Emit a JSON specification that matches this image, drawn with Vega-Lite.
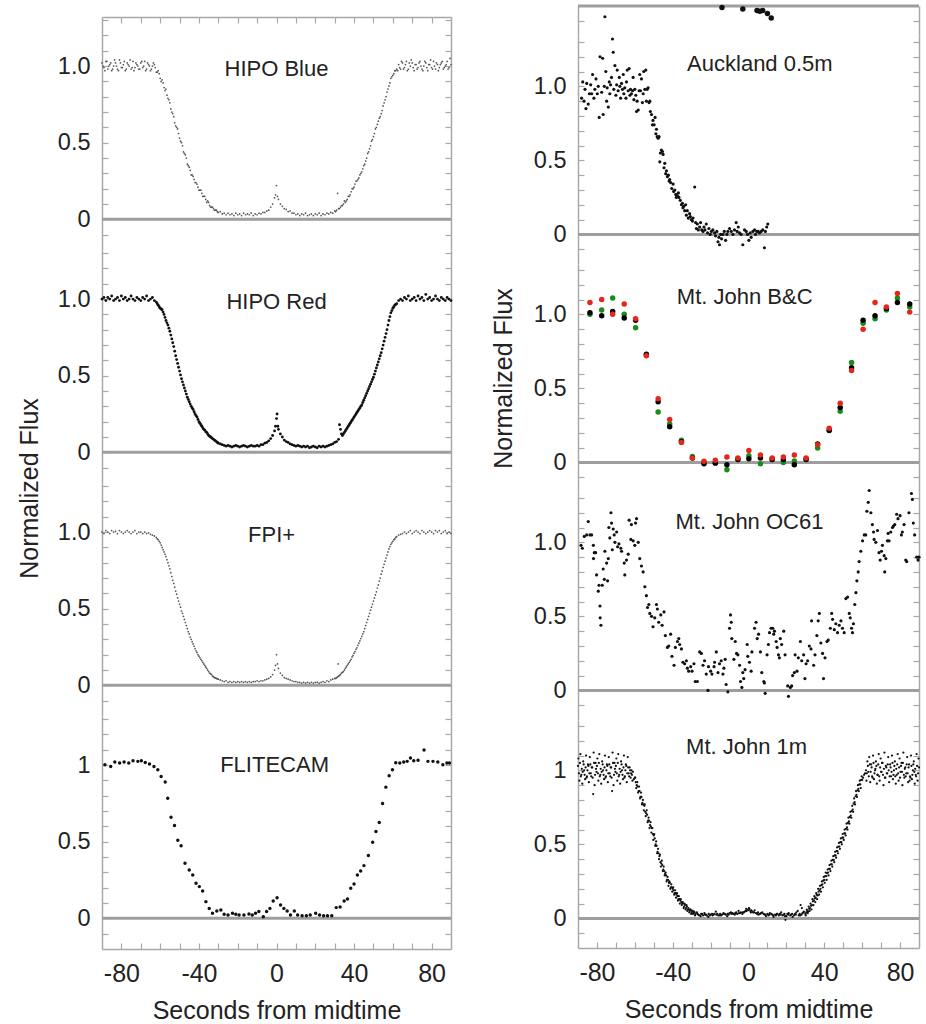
{
"$schema":"https://vega.github.io/schema/vega-lite/v6.json",
"padding":{"left":17,"top":4,"right":5,"bottom":0},
"autosize":{"type":"pad"},
"config":{"view":{"stroke":null},"font":"Liberation Sans",
"axis":{"domainColor":"#a8a8a8","domainWidth":1.5,"tickColor":"#a8a8a8","tickWidth":1.2,"tickSize":-6,"grid":false,"labelColor":"#222222","labelFont":"Liberation Sans","labelFontSize":23.5,"labelPadding":18,"labelOverlap":false,"labelFlush":false,"titleFont":"Liberation Sans","titleFontSize":25,"titleFontWeight":"normal","titleColor":"#222222"},
"axisBottom":{"labelFontSize":25}},
"datasets":{
"hb":[{"t":-90,"f":1.02},{"t":-89,"f":0.99},{"t":-88,"f":1.03},{"t":-87,"f":0.98},{"t":-86,"f":1.01},{"t":-85,"f":0.97},{"t":-84,"f":1.0},{"t":-83,"f":1.02},{"t":-82,"f":0.98},{"t":-81,"f":1.04},{"t":-80,"f":0.99},{"t":-79,"f":1.01},{"t":-78,"f":0.97},{"t":-77,"f":1.02},{"t":-76,"f":1.0},{"t":-75,"f":0.98},{"t":-74,"f":1.03},{"t":-73,"f":0.99},{"t":-72,"f":1.01},{"t":-71,"f":0.98},{"t":-70,"f":1.02},{"t":-69,"f":0.99},{"t":-68,"f":1.03},{"t":-67,"f":0.98},{"t":-66,"f":1.01},{"t":-65,"f":0.97},{"t":-64,"f":1.0},{"t":-63,"f":1.01},{"t":-62,"f":0.96},{"t":-61,"f":0.97},{"t":-60,"f":0.92},{"t":-59,"f":0.91},{"t":-58,"f":0.86},{"t":-57,"f":0.85},{"t":-56,"f":0.79},{"t":-55,"f":0.76},{"t":-54,"f":0.7},{"t":-53,"f":0.67},{"t":-52,"f":0.61},{"t":-51,"f":0.59},{"t":-50,"f":0.53},{"t":-49,"f":0.5},{"t":-48,"f":0.44},{"t":-47,"f":0.42},{"t":-46,"f":0.36},{"t":-45,"f":0.34},{"t":-44,"f":0.29},{"t":-43,"f":0.28},{"t":-42,"f":0.24},{"t":-41,"f":0.23},{"t":-40,"f":0.19},{"t":-39,"f":0.19},{"t":-38,"f":0.15},{"t":-37,"f":0.15},{"t":-36,"f":0.11},{"t":-35,"f":0.11},{"t":-34,"f":0.08},{"t":-33,"f":0.08},{"t":-32,"f":0.06},{"t":-31,"f":0.06},{"t":-30,"f":0.045},{"t":-29,"f":0.05},{"t":-28,"f":0.035},{"t":-27,"f":0.04},{"t":-26,"f":0.03},{"t":-25,"f":0.04},{"t":-24,"f":0.03},{"t":-23,"f":0.035},{"t":-22,"f":0.025},{"t":-21,"f":0.04},{"t":-20,"f":0.03},{"t":-19,"f":0.035},{"t":-18,"f":0.025},{"t":-17,"f":0.04},{"t":-16,"f":0.03},{"t":-15,"f":0.035},{"t":-14,"f":0.03},{"t":-13,"f":0.04},{"t":-12,"f":0.025},{"t":-11,"f":0.035},{"t":-10,"f":0.03},{"t":-9,"f":0.04},{"t":-8,"f":0.035},{"t":-7,"f":0.045},{"t":-6,"f":0.045},{"t":-5,"f":0.055},{"t":-4,"f":0.06},{"t":-3,"f":0.08},{"t":-2,"f":0.1},{"t":-1,"f":0.14},{"t":-0.5,"f":0.16},{"t":0,"f":0.22},{"t":0.5,"f":0.15},{"t":1,"f":0.13},{"t":2,"f":0.1},{"t":3,"f":0.085},{"t":4,"f":0.07},{"t":5,"f":0.065},{"t":6,"f":0.05},{"t":7,"f":0.055},{"t":8,"f":0.04},{"t":9,"f":0.04},{"t":10,"f":0.03},{"t":11,"f":0.035},{"t":12,"f":0.025},{"t":13,"f":0.035},{"t":14,"f":0.03},{"t":15,"f":0.04},{"t":16,"f":0.025},{"t":17,"f":0.03},{"t":18,"f":0.035},{"t":19,"f":0.025},{"t":20,"f":0.035},{"t":21,"f":0.03},{"t":22,"f":0.04},{"t":23,"f":0.025},{"t":24,"f":0.035},{"t":25,"f":0.03},{"t":26,"f":0.04},{"t":27,"f":0.035},{"t":28,"f":0.045},{"t":29,"f":0.04},{"t":30,"f":0.055},{"t":31,"f":0.06},{"t":32,"f":0.07},{"t":33,"f":0.08},{"t":34,"f":0.09},{"t":35,"f":0.12},{"t":36,"f":0.12},{"t":37,"f":0.15},{"t":38,"f":0.16},{"t":39,"f":0.2},{"t":40,"f":0.21},{"t":41,"f":0.25},{"t":42,"f":0.26},{"t":43,"f":0.29},{"t":44,"f":0.31},{"t":45,"f":0.35},{"t":46,"f":0.38},{"t":47,"f":0.43},{"t":48,"f":0.46},{"t":49,"f":0.51},{"t":50,"f":0.54},{"t":51,"f":0.59},{"t":52,"f":0.62},{"t":53,"f":0.66},{"t":54,"f":0.69},{"t":55,"f":0.74},{"t":56,"f":0.78},{"t":57,"f":0.83},{"t":58,"f":0.87},{"t":59,"f":0.92},{"t":60,"f":0.94},{"t":61,"f":0.97},{"t":62,"f":0.98},{"t":63,"f":1.01},{"t":64,"f":0.98},{"t":65,"f":1.02},{"t":66,"f":0.99},{"t":67,"f":1.03},{"t":68,"f":0.98},{"t":69,"f":1.0},{"t":70,"f":1.02},{"t":71,"f":0.97},{"t":72,"f":1.01},{"t":73,"f":0.99},{"t":74,"f":1.03},{"t":75,"f":0.98},{"t":76,"f":1.0},{"t":77,"f":1.02},{"t":78,"f":0.97},{"t":79,"f":1.01},{"t":80,"f":0.99},{"t":81,"f":1.03},{"t":82,"f":0.98},{"t":83,"f":1.01},{"t":84,"f":0.99},{"t":85,"f":1.02},{"t":86,"f":0.98},{"t":87,"f":1.0},{"t":88,"f":1.03},{"t":89,"f":0.99},{"t":90,"f":1.01},
{"t":-89.5,"f":1.0},{"t":-88.5,"f":0.97},{"t":-87.5,"f":1.03},{"t":-86.5,"f":1.0},{"t":-85.5,"f":1.02},{"t":-84.5,"f":0.98},{"t":-83.5,"f":1.04},{"t":-82.5,"f":1.0},{"t":-81.5,"f":0.97},{"t":-80.5,"f":1.02},{"t":-79.5,"f":0.99},{"t":-78.5,"f":1.03},{"t":-77.5,"f":0.98},{"t":-76.5,"f":1.01},{"t":-75.5,"f":1.04},{"t":-74.5,"f":0.99},{"t":-73.5,"f":0.97},{"t":-72.5,"f":1.02},{"t":-71.5,"f":1.0},{"t":-70.5,"f":0.98},{"t":-69.5,"f":1.03},{"t":-68.5,"f":1.0},{"t":-67.5,"f":0.97},{"t":-66.5,"f":1.02},{"t":-65.5,"f":1.0},{"t":-64.5,"f":0.98},{"t":-63.5,"f":1.02},{"t":-62.5,"f":0.99},
{"t":62.5,"f":0.97},{"t":63.5,"f":0.99},{"t":64.5,"f":1.03},{"t":65.5,"f":0.98},{"t":66.5,"f":1.01},{"t":67.5,"f":0.97},{"t":68.5,"f":1.02},{"t":69.5,"f":1.04},{"t":70.5,"f":0.99},{"t":71.5,"f":1.01},{"t":72.5,"f":0.98},{"t":73.5,"f":1.02},{"t":74.5,"f":1.0},{"t":75.5,"f":0.97},{"t":76.5,"f":1.03},{"t":77.5,"f":0.99},{"t":78.5,"f":1.01},{"t":79.5,"f":1.04},{"t":80.5,"f":0.98},{"t":81.5,"f":1.0},{"t":82.5,"f":1.02},{"t":83.5,"f":0.97},{"t":84.5,"f":1.01},{"t":85.5,"f":1.03},{"t":86.5,"f":0.99},{"t":87.5,"f":1.01},{"t":88.5,"f":0.98},{"t":89.5,"f":1.05},
{"t":-61.5,"f":0.96},{"t":-60.5,"f":0.95},{"t":-59.5,"f":0.9},{"t":-58.5,"f":0.89},{"t":-57.5,"f":0.84},{"t":-56.5,"f":0.81},{"t":-55.5,"f":0.78},{"t":-54.5,"f":0.72},{"t":-53.5,"f":0.69},{"t":-52.5,"f":0.63},{"t":-51.5,"f":0.6},{"t":-50.5,"f":0.56},{"t":-49.5,"f":0.51},{"t":-48.5,"f":0.48},{"t":-47.5,"f":0.43},{"t":-46.5,"f":0.4},{"t":-45.5,"f":0.35},{"t":-44.5,"f":0.32},{"t":-43.5,"f":0.29},{"t":-42.5,"f":0.26},{"t":-41.5,"f":0.24},{"t":-40.5,"f":0.21},{"t":-39.5,"f":0.19},{"t":-38.5,"f":0.17},{"t":-37.5,"f":0.15},{"t":-36.5,"f":0.13},{"t":-35.5,"f":0.12},{"t":-34.5,"f":0.09},{"t":-33.5,"f":0.08},{"t":-32.5,"f":0.07},{"t":-31.5,"f":0.06},{"t":-30.5,"f":0.05},
{"t":30.5,"f":0.05},{"t":31.5,"f":0.17},{"t":32.5,"f":0.07},{"t":33.5,"f":0.09},{"t":34.5,"f":0.1},{"t":35.5,"f":0.11},{"t":36.5,"f":0.13},{"t":37.5,"f":0.15},{"t":38.5,"f":0.18},{"t":39.5,"f":0.2},{"t":40.5,"f":0.23},{"t":41.5,"f":0.25},{"t":42.5,"f":0.27},{"t":43.5,"f":0.3},{"t":44.5,"f":0.33},{"t":45.5,"f":0.36},{"t":46.5,"f":0.4},{"t":47.5,"f":0.44},{"t":48.5,"f":0.48},{"t":49.5,"f":0.52},{"t":50.5,"f":0.56},{"t":51.5,"f":0.6},{"t":52.5,"f":0.64},{"t":53.5,"f":0.67},{"t":54.5,"f":0.71},{"t":55.5,"f":0.76},{"t":56.5,"f":0.8},{"t":57.5,"f":0.85},{"t":58.5,"f":0.89},{"t":59.5,"f":0.93},{"t":60.5,"f":0.95},{"t":61.5,"f":0.97}],
"hr":[{"t":-90,"f":1.0},{"t":-89,"f":1.01},{"t":-88,"f":0.99},{"t":-87,"f":1.01},{"t":-86,"f":1.0},{"t":-85,"f":1.02},{"t":-84,"f":0.99},{"t":-83,"f":1.0},{"t":-82,"f":1.01},{"t":-81,"f":0.99},{"t":-80,"f":1.02},{"t":-79,"f":1.0},{"t":-78,"f":1.01},{"t":-77,"f":0.99},{"t":-76,"f":1.0},{"t":-75,"f":1.02},{"t":-74,"f":1.0},{"t":-73,"f":0.99},{"t":-72,"f":1.01},{"t":-71,"f":1.0},{"t":-70,"f":0.99},{"t":-69,"f":1.01},{"t":-68,"f":1.0},{"t":-67,"f":1.02},{"t":-66,"f":0.99},{"t":-65,"f":1.0},{"t":-64,"f":1.01},{"t":-63,"f":0.99},{"t":-62,"f":0.98},{"t":-61,"f":0.96},{"t":-60,"f":0.94},{"t":-59,"f":0.93},{"t":-58,"f":0.9},{"t":-57,"f":0.86},{"t":-56,"f":0.83},{"t":-55,"f":0.79},{"t":-54,"f":0.74},{"t":-53,"f":0.69},{"t":-52,"f":0.63},{"t":-51,"f":0.58},{"t":-50,"f":0.53},{"t":-49,"f":0.48},{"t":-48,"f":0.44},{"t":-47,"f":0.4},{"t":-46,"f":0.36},{"t":-45,"f":0.33},{"t":-44,"f":0.3},{"t":-43,"f":0.28},{"t":-42,"f":0.25},{"t":-41,"f":0.23},{"t":-40,"f":0.2},{"t":-39,"f":0.18},{"t":-38,"f":0.16},{"t":-37,"f":0.145},{"t":-36,"f":0.13},{"t":-35,"f":0.11},{"t":-34,"f":0.1},{"t":-33,"f":0.09},{"t":-32,"f":0.08},{"t":-31,"f":0.07},{"t":-30,"f":0.06},{"t":-29,"f":0.055},{"t":-28,"f":0.05},{"t":-27,"f":0.045},{"t":-26,"f":0.04},{"t":-25,"f":0.045},{"t":-24,"f":0.04},{"t":-23,"f":0.035},{"t":-22,"f":0.04},{"t":-21,"f":0.045},{"t":-20,"f":0.04},{"t":-19,"f":0.035},{"t":-18,"f":0.04},{"t":-17,"f":0.045},{"t":-16,"f":0.04},{"t":-15,"f":0.035},{"t":-14,"f":0.04},{"t":-13,"f":0.045},{"t":-12,"f":0.04},{"t":-11,"f":0.04},{"t":-10,"f":0.045},{"t":-9,"f":0.04},{"t":-8,"f":0.05},{"t":-7,"f":0.05},{"t":-6,"f":0.06},{"t":-5,"f":0.065},{"t":-4,"f":0.075},{"t":-3,"f":0.09},{"t":-2,"f":0.11},{"t":-1,"f":0.14},{"t":-0.5,"f":0.17},{"t":0,"f":0.22},{"t":0.3,"f":0.25},{"t":0.7,"f":0.17},{"t":1,"f":0.15},{"t":2,"f":0.12},{"t":3,"f":0.1},{"t":4,"f":0.08},{"t":5,"f":0.07},{"t":6,"f":0.065},{"t":7,"f":0.055},{"t":8,"f":0.05},{"t":9,"f":0.045},{"t":10,"f":0.04},{"t":11,"f":0.045},{"t":12,"f":0.04},{"t":13,"f":0.035},{"t":14,"f":0.04},{"t":15,"f":0.035},{"t":16,"f":0.04},{"t":17,"f":0.03},{"t":18,"f":0.035},{"t":19,"f":0.04},{"t":20,"f":0.035},{"t":21,"f":0.03},{"t":22,"f":0.04},{"t":23,"f":0.035},{"t":24,"f":0.04},{"t":25,"f":0.035},{"t":26,"f":0.04},{"t":27,"f":0.045},{"t":28,"f":0.05},{"t":29,"f":0.055},{"t":30,"f":0.065},{"t":31,"f":0.07},{"t":32,"f":0.085},{"t":32.5,"f":0.18},{"t":33,"f":0.15},{"t":34,"f":0.11},{"t":35,"f":0.13},{"t":36,"f":0.15},{"t":37,"f":0.17},{"t":38,"f":0.19},{"t":39,"f":0.21},{"t":40,"f":0.23},{"t":41,"f":0.25},{"t":42,"f":0.27},{"t":43,"f":0.29},{"t":44,"f":0.31},{"t":45,"f":0.34},{"t":46,"f":0.37},{"t":47,"f":0.4},{"t":48,"f":0.43},{"t":49,"f":0.46},{"t":50,"f":0.49},{"t":51,"f":0.53},{"t":52,"f":0.57},{"t":53,"f":0.61},{"t":54,"f":0.65},{"t":55,"f":0.7},{"t":56,"f":0.75},{"t":57,"f":0.8},{"t":58,"f":0.86},{"t":59,"f":0.91},{"t":60,"f":0.94},{"t":61,"f":0.96},{"t":62,"f":0.97},{"t":63,"f":0.99},{"t":64,"f":1.0},{"t":65,"f":0.99},{"t":66,"f":1.01},{"t":67,"f":1.0},{"t":68,"f":1.02},{"t":69,"f":0.99},{"t":70,"f":1.0},{"t":71,"f":1.01},{"t":72,"f":0.99},{"t":73,"f":1.02},{"t":74,"f":1.0},{"t":75,"f":1.01},{"t":76,"f":0.99},{"t":77,"f":1.03},{"t":78,"f":1.0},{"t":79,"f":1.01},{"t":80,"f":0.99},{"t":81,"f":1.0},{"t":82,"f":1.02},{"t":83,"f":1.0},{"t":84,"f":0.99},{"t":85,"f":1.01},{"t":86,"f":1.0},{"t":87,"f":0.99},{"t":88,"f":1.01},{"t":89,"f":1.0},{"t":90,"f":0.99},
{"t":-61.5,"f":0.97},{"t":-60.5,"f":0.95},{"t":-59.5,"f":0.935},{"t":-58.5,"f":0.915},{"t":-57.5,"f":0.88},{"t":-56.5,"f":0.845},{"t":-55.5,"f":0.81},{"t":-54.5,"f":0.765},{"t":-53.5,"f":0.715},{"t":-52.5,"f":0.66},{"t":-51.5,"f":0.605},{"t":-50.5,"f":0.555},{"t":-49.5,"f":0.505},{"t":-48.5,"f":0.46},{"t":-47.5,"f":0.42},{"t":-46.5,"f":0.38},{"t":-45.5,"f":0.345},{"t":-44.5,"f":0.315},{"t":-43.5,"f":0.29},{"t":-42.5,"f":0.265},{"t":-41.5,"f":0.24},{"t":-40.5,"f":0.215},{"t":-39.5,"f":0.19},{"t":-38.5,"f":0.17},{"t":-37.5,"f":0.15},{"t":-36.5,"f":0.135},{"t":-35.5,"f":0.12},{"t":-34.5,"f":0.105},{"t":-33.5,"f":0.095},{"t":-32.5,"f":0.085},{"t":-31.5,"f":0.075},{"t":-30.5,"f":0.065},
{"t":33.5,"f":0.12},{"t":34.5,"f":0.12},{"t":35.5,"f":0.14},{"t":36.5,"f":0.16},{"t":37.5,"f":0.18},{"t":38.5,"f":0.2},{"t":39.5,"f":0.22},{"t":40.5,"f":0.24},{"t":41.5,"f":0.26},{"t":42.5,"f":0.28},{"t":43.5,"f":0.3},{"t":44.5,"f":0.325},{"t":45.5,"f":0.355},{"t":46.5,"f":0.385},{"t":47.5,"f":0.415},{"t":48.5,"f":0.445},{"t":49.5,"f":0.475},{"t":50.5,"f":0.51},{"t":51.5,"f":0.55},{"t":52.5,"f":0.59},{"t":53.5,"f":0.63},{"t":54.5,"f":0.675},{"t":55.5,"f":0.725},{"t":56.5,"f":0.775},{"t":57.5,"f":0.83},{"t":58.5,"f":0.885},{"t":59.5,"f":0.925},{"t":60.5,"f":0.95},{"t":61.5,"f":0.965}],
"fp":[{"t":-90,"f":1.0},{"t":-89,"f":0.99},{"t":-88,"f":1.01},{"t":-87,"f":1.0},{"t":-86,"f":0.99},{"t":-85,"f":1.01},{"t":-84,"f":1.0},{"t":-83,"f":1.005},{"t":-82,"f":0.99},{"t":-81,"f":1.01},{"t":-80,"f":1.0},{"t":-79,"f":0.99},{"t":-78,"f":1.0},{"t":-77,"f":1.01},{"t":-76,"f":1.0},{"t":-75,"f":0.99},{"t":-74,"f":1.0},{"t":-73,"f":1.01},{"t":-72,"f":0.99},{"t":-71,"f":1.0},{"t":-70,"f":1.0},{"t":-69,"f":0.99},{"t":-68,"f":1.0},{"t":-67,"f":0.99},{"t":-66,"f":0.995},{"t":-65,"f":0.985},{"t":-64,"f":0.98},{"t":-63,"f":0.975},{"t":-62,"f":0.965},{"t":-61,"f":0.95},{"t":-60,"f":0.93},{"t":-59,"f":0.9},{"t":-58,"f":0.87},{"t":-57,"f":0.84},{"t":-56,"f":0.8},{"t":-55,"f":0.76},{"t":-54,"f":0.71},{"t":-53,"f":0.665},{"t":-52,"f":0.615},{"t":-51,"f":0.57},{"t":-50,"f":0.53},{"t":-49,"f":0.485},{"t":-48,"f":0.45},{"t":-47,"f":0.41},{"t":-46,"f":0.37},{"t":-45,"f":0.335},{"t":-44,"f":0.3},{"t":-43,"f":0.27},{"t":-42,"f":0.24},{"t":-41,"f":0.215},{"t":-40,"f":0.19},{"t":-39,"f":0.17},{"t":-38,"f":0.15},{"t":-37,"f":0.13},{"t":-36,"f":0.11},{"t":-35,"f":0.09},{"t":-34,"f":0.075},{"t":-33,"f":0.06},{"t":-32,"f":0.05},{"t":-31,"f":0.045},{"t":-30,"f":0.04},{"t":-29,"f":0.035},{"t":-28,"f":0.03},{"t":-27,"f":0.025},{"t":-26,"f":0.03},{"t":-25,"f":0.02},{"t":-24,"f":0.025},{"t":-23,"f":0.02},{"t":-22,"f":0.025},{"t":-21,"f":0.02},{"t":-20,"f":0.025},{"t":-19,"f":0.02},{"t":-18,"f":0.025},{"t":-17,"f":0.02},{"t":-16,"f":0.025},{"t":-15,"f":0.02},{"t":-14,"f":0.025},{"t":-13,"f":0.02},{"t":-12,"f":0.025},{"t":-11,"f":0.025},{"t":-10,"f":0.03},{"t":-9,"f":0.025},{"t":-8,"f":0.03},{"t":-7,"f":0.03},{"t":-6,"f":0.035},{"t":-5,"f":0.04},{"t":-4,"f":0.045},{"t":-3,"f":0.055},{"t":-2,"f":0.07},{"t":-1,"f":0.1},{"t":-0.5,"f":0.13},{"t":0,"f":0.2},{"t":0.5,"f":0.14},{"t":1,"f":0.11},{"t":2,"f":0.08},{"t":3,"f":0.065},{"t":4,"f":0.05},{"t":5,"f":0.045},{"t":6,"f":0.04},{"t":7,"f":0.035},{"t":8,"f":0.03},{"t":9,"f":0.025},{"t":10,"f":0.025},{"t":11,"f":0.02},{"t":12,"f":0.02},{"t":13,"f":0.015},{"t":14,"f":0.02},{"t":15,"f":0.015},{"t":16,"f":0.02},{"t":17,"f":0.015},{"t":18,"f":0.02},{"t":19,"f":0.015},{"t":20,"f":0.02},{"t":21,"f":0.02},{"t":22,"f":0.015},{"t":23,"f":0.02},{"t":24,"f":0.025},{"t":25,"f":0.02},{"t":26,"f":0.03},{"t":27,"f":0.025},{"t":28,"f":0.035},{"t":29,"f":0.04},{"t":30,"f":0.045},{"t":31,"f":0.05},{"t":31.8,"f":0.14},{"t":32,"f":0.06},{"t":33,"f":0.07},{"t":34,"f":0.085},{"t":35,"f":0.1},{"t":36,"f":0.12},{"t":37,"f":0.14},{"t":38,"f":0.16},{"t":39,"f":0.185},{"t":40,"f":0.21},{"t":41,"f":0.235},{"t":42,"f":0.26},{"t":43,"f":0.29},{"t":44,"f":0.32},{"t":45,"f":0.35},{"t":46,"f":0.39},{"t":47,"f":0.43},{"t":48,"f":0.47},{"t":49,"f":0.51},{"t":50,"f":0.55},{"t":51,"f":0.59},{"t":52,"f":0.635},{"t":53,"f":0.68},{"t":54,"f":0.725},{"t":55,"f":0.77},{"t":56,"f":0.81},{"t":57,"f":0.85},{"t":58,"f":0.89},{"t":59,"f":0.92},{"t":60,"f":0.94},{"t":61,"f":0.955},{"t":62,"f":0.97},{"t":63,"f":0.98},{"t":64,"f":0.985},{"t":65,"f":0.99},{"t":66,"f":1.0},{"t":67,"f":0.99},{"t":68,"f":1.0},{"t":69,"f":1.01},{"t":70,"f":0.99},{"t":71,"f":1.0},{"t":72,"f":1.01},{"t":73,"f":1.0},{"t":74,"f":0.99},{"t":75,"f":1.01},{"t":76,"f":1.0},{"t":77,"f":0.99},{"t":78,"f":1.0},{"t":79,"f":1.01},{"t":80,"f":1.0},{"t":81,"f":0.99},{"t":82,"f":1.01},{"t":83,"f":1.0},{"t":84,"f":1.01},{"t":85,"f":0.99},{"t":86,"f":1.0},{"t":87,"f":1.01},{"t":88,"f":0.99},{"t":89,"f":1.0},{"t":90,"f":0.99},
{"t":-61.5,"f":0.955},{"t":-60.5,"f":0.94},{"t":-59.5,"f":0.915},{"t":-58.5,"f":0.885},{"t":-57.5,"f":0.855},{"t":-56.5,"f":0.82},{"t":-55.5,"f":0.78},{"t":-54.5,"f":0.735},{"t":-53.5,"f":0.685},{"t":-52.5,"f":0.64},{"t":-51.5,"f":0.595},{"t":-50.5,"f":0.55},{"t":-49.5,"f":0.51},{"t":-48.5,"f":0.47},{"t":-47.5,"f":0.43},{"t":-46.5,"f":0.39},{"t":-45.5,"f":0.35},{"t":-44.5,"f":0.315},{"t":-43.5,"f":0.285},{"t":-42.5,"f":0.255},{"t":-41.5,"f":0.225},{"t":-40.5,"f":0.2},{"t":-39.5,"f":0.18},{"t":-38.5,"f":0.16},{"t":-37.5,"f":0.14},{"t":-36.5,"f":0.12},{"t":-35.5,"f":0.1},{"t":-34.5,"f":0.08},{"t":-33.5,"f":0.07},{"t":-32.5,"f":0.055},{"t":-31.5,"f":0.048},{"t":-30.5,"f":0.042},
{"t":30.5,"f":0.045},{"t":31.5,"f":0.055},{"t":32.5,"f":0.065},{"t":33.5,"f":0.08},{"t":34.5,"f":0.09},{"t":35.5,"f":0.11},{"t":36.5,"f":0.13},{"t":37.5,"f":0.15},{"t":38.5,"f":0.17},{"t":39.5,"f":0.195},{"t":40.5,"f":0.22},{"t":41.5,"f":0.245},{"t":42.5,"f":0.275},{"t":43.5,"f":0.305},{"t":44.5,"f":0.335},{"t":45.5,"f":0.37},{"t":46.5,"f":0.41},{"t":47.5,"f":0.45},{"t":48.5,"f":0.49},{"t":49.5,"f":0.53},{"t":50.5,"f":0.57},{"t":51.5,"f":0.61},{"t":52.5,"f":0.655},{"t":53.5,"f":0.7},{"t":54.5,"f":0.745},{"t":55.5,"f":0.79},{"t":56.5,"f":0.83},{"t":57.5,"f":0.87},{"t":58.5,"f":0.905},{"t":59.5,"f":0.93},{"t":60.5,"f":0.95},{"t":61.5,"f":0.965}],
"fl":[{"t":-88.5,"f":1.002},{"t":-85.5,"f":0.991},{"t":-83.4,"f":1.02},{"t":-80.9,"f":1.013},{"t":-78.6,"f":1.02},{"t":-76.2,"f":1.013},{"t":-74.0,"f":1.028},{"t":-71.5,"f":1.024},{"t":-69.7,"f":1.028},{"t":-67.7,"f":1.017},{"t":-65.5,"f":1.007},{"t":-63.2,"f":0.991},{"t":-61.2,"f":0.969},{"t":-59.5,"f":0.926},{"t":-57.4,"f":0.889},{"t":-56.1,"f":0.784},{"t":-54.4,"f":0.66},{"t":-52.6,"f":0.606},{"t":-50.9,"f":0.51},{"t":-49.2,"f":0.473},{"t":-47.2,"f":0.359},{"t":-45.0,"f":0.316},{"t":-43.2,"f":0.283},{"t":-41.5,"f":0.229},{"t":-39.8,"f":0.207},{"t":-38.1,"f":0.179},{"t":-36.4,"f":0.109},{"t":-34.7,"f":0.065},{"t":-33.0,"f":0.033},{"t":-30.8,"f":0.048},{"t":-28.7,"f":0.054},{"t":-27.0,"f":0.026},{"t":-25.0,"f":0.022},{"t":-22.7,"f":0.033},{"t":-21.0,"f":0.026},{"t":-19.3,"f":0.022},{"t":-16.8,"f":0.022},{"t":-14.2,"f":0.028},{"t":-12.5,"f":0.022},{"t":-10.8,"f":0.033},{"t":-9.1,"f":0.044},{"t":-6.8,"f":0.011},{"t":-5.1,"f":0.044},{"t":-3.4,"f":0.065},{"t":-1.7,"f":0.113},{"t":0.3,"f":0.135},{"t":2.1,"f":0.087},{"t":3.8,"f":0.065},{"t":5.5,"f":0.048},{"t":7.2,"f":0.022},{"t":9.2,"f":0.048},{"t":10.9,"f":0.022},{"t":13.2,"f":0.017},{"t":15.4,"f":0.017},{"t":17.4,"f":0.022},{"t":20.2,"f":0.033},{"t":22.2,"f":0.022},{"t":24.3,"f":0.017},{"t":26.3,"f":0.017},{"t":28.5,"f":0.017},{"t":30.8,"f":0.07},{"t":32.8,"f":0.074},{"t":34.9,"f":0.113},{"t":36.6,"f":0.126},{"t":38.3,"f":0.196},{"t":40.0,"f":0.224},{"t":41.7,"f":0.283},{"t":43.4,"f":0.309},{"t":45.1,"f":0.344},{"t":47.4,"f":0.41},{"t":49.6,"f":0.497},{"t":51.3,"f":0.566},{"t":53.0,"f":0.625},{"t":54.7,"f":0.749},{"t":56.4,"f":0.856},{"t":58.1,"f":0.93},{"t":59.8,"f":0.969},{"t":61.5,"f":1.015},{"t":63.6,"f":1.013},{"t":65.6,"f":1.02},{"t":67.4,"f":1.024},{"t":69.1,"f":1.046},{"t":70.8,"f":1.028},{"t":73.0,"f":1.031},{"t":76.1,"f":1.098},{"t":78.1,"f":1.024},{"t":80.7,"f":1.024},{"t":83.2,"f":1.02},{"t":85.8,"f":1.002},{"t":87.9,"f":1.013},{"t":89.2,"f":1.013}],
"ph":[{"t":-14,"f":-0.01},{"t":-3,"f":-0.02},{"t":4.5,"f":-0.03},{"t":6,"f":-0.035},{"t":7.5,"f":-0.03},{"t":10,"f":-0.05},{"t":12,"f":-0.08}],
"au":[{"t":-88.1,"f":0.92},{"t":-87.5,"f":1.03},{"t":-86.8,"f":0.9},{"t":-86.3,"f":0.98},{"t":-85.8,"f":0.85},{"t":-85.4,"f":1.02},{"t":-84.6,"f":0.88},{"t":-84.0,"f":0.95},{"t":-83.3,"f":1.01},{"t":-82.8,"f":0.95},{"t":-82.3,"f":1.08},{"t":-81.6,"f":0.92},{"t":-81.1,"f":0.98},{"t":-80.5,"f":1.05},{"t":-79.8,"f":0.95},{"t":-79.3,"f":1.0},{"t":-78.8,"f":0.79},{"t":-78.4,"f":1.2},{"t":-77.5,"f":0.96},{"t":-77.0,"f":1.19},{"t":-76.7,"f":0.81},{"t":-76.1,"f":1.0},{"t":-75.8,"f":1.47},{"t":-75.3,"f":1.1},{"t":-74.9,"f":0.9},{"t":-74.6,"f":0.99},{"t":-74.0,"f":0.86},{"t":-73.5,"f":1.03},{"t":-73.2,"f":0.95},{"t":-72.8,"f":1.01},{"t":-72.3,"f":1.06},{"t":-71.8,"f":1.32},{"t":-71.4,"f":1.23},{"t":-71.1,"f":0.98},{"t":-70.5,"f":1.14},{"t":-70.0,"f":0.94},{"t":-69.6,"f":1.01},{"t":-69.3,"f":1.11},{"t":-68.8,"f":0.97},{"t":-68.2,"f":1.06},{"t":-67.9,"f":1.0},{"t":-67.5,"f":0.92},{"t":-67.0,"f":1.02},{"t":-66.5,"f":0.98},{"t":-66.1,"f":1.08},{"t":-65.8,"f":0.95},{"t":-65.3,"f":0.99},{"t":-64.7,"f":0.92},{"t":-64.4,"f":1.03},{"t":-64.0,"f":1.11},{"t":-63.5,"f":0.97},{"t":-63.0,"f":1.12},{"t":-62.6,"f":0.94},{"t":-62.3,"f":0.98},{"t":-61.8,"f":0.95},{"t":-61.2,"f":0.97},{"t":-60.9,"f":1.06},{"t":-60.5,"f":0.91},{"t":-60.0,"f":0.98},{"t":-59.5,"f":0.94},{"t":-59.1,"f":0.83},{"t":-58.8,"f":0.9},{"t":-58.2,"f":0.84},{"t":-57.7,"f":0.97},{"t":-57.4,"f":1.08},{"t":-57.0,"f":0.97},{"t":-56.5,"f":1.05},{"t":-56.0,"f":0.89},{"t":-55.6,"f":0.95},{"t":-55.3,"f":1.1},{"t":-54.7,"f":0.98},{"t":-54.2,"f":1.11},{"t":-53.9,"f":0.9},{"t":-53.5,"f":0.98},{"t":-53.0,"f":0.99},{"t":-52.5,"f":0.89},{"t":-52.1,"f":0.9},{"t":-51.8,"f":0.83},{"t":-51.2,"f":0.81},{"t":-50.7,"f":0.74},{"t":-50.4,"f":0.77},{"t":-49.8,"f":0.74},{"t":-49.3,"f":0.79},{"t":-48.9,"f":0.68},{"t":-48.6,"f":0.71},{"t":-48.2,"f":0.66},{"t":-47.7,"f":0.65},{"t":-47.2,"f":0.66},{"t":-46.8,"f":0.49},{"t":-46.5,"f":0.55},{"t":-46.0,"f":0.57},{"t":-45.4,"f":0.56},{"t":-45.1,"f":0.54},{"t":-44.6,"f":0.45},{"t":-44.2,"f":0.48},{"t":-43.7,"f":0.41},{"t":-43.3,"f":0.43},{"t":-42.8,"f":0.39},{"t":-42.3,"f":0.4},{"t":-41.9,"f":0.36},{"t":-41.6,"f":0.37},{"t":-41.1,"f":0.35},{"t":-40.5,"f":0.31},{"t":-39.8,"f":0.34},{"t":-39.5,"f":0.29},{"t":-38.9,"f":0.3},{"t":-38.4,"f":0.27},{"t":-38.1,"f":0.25},{"t":-37.5,"f":0.26},{"t":-37.0,"f":0.28},{"t":-36.7,"f":0.25},{"t":-36.0,"f":0.23},{"t":-35.4,"f":0.2},{"t":-34.9,"f":0.21},{"t":-34.6,"f":0.18},{"t":-34.2,"f":0.19},{"t":-33.7,"f":0.16},{"t":-33.2,"f":0.2},{"t":-32.8,"f":0.13},{"t":-32.3,"f":0.16},{"t":-31.8,"f":0.11},{"t":-31.1,"f":0.14},{"t":-30.7,"f":0.12},{"t":-30.2,"f":0.1},{"t":-29.6,"f":0.09},{"t":-29.3,"f":0.11},{"t":-28.4,"f":0.32},{"t":-27.9,"f":0.08},{"t":-27.5,"f":0.04},{"t":-27.0,"f":0.07},{"t":-26.5,"f":0.03},{"t":-25.8,"f":0.05},{"t":-25.3,"f":0.08},{"t":-24.7,"f":0.03},{"t":-24.0,"f":0.02},{"t":-23.5,"f":0.05},{"t":-23.0,"f":0.03},{"t":-22.3,"f":0.07},{"t":-21.6,"f":0.01},{"t":-20.9,"f":0.04},{"t":-20.2,"f":0.0},{"t":-19.6,"f":0.02},{"t":-18.8,"f":0.03},{"t":-17.9,"f":0.01},{"t":-17.4,"f":-0.01},{"t":-16.7,"f":0.02},{"t":-16.1,"f":-0.05},{"t":-15.6,"f":-0.02},{"t":-15.3,"f":-0.07},{"t":-14.7,"f":0.0},{"t":-14.2,"f":-0.03},{"t":-13.5,"f":0.0},{"t":-12.8,"f":0.02},{"t":-12.1,"f":-0.04},{"t":-11.4,"f":0.0},{"t":-10.9,"f":0.02},{"t":-10.0,"f":0.04},{"t":-9.1,"f":0.02},{"t":-8.2,"f":0.0},{"t":-7.4,"f":0.03},{"t":-6.5,"f":0.08},{"t":-6.0,"f":0.02},{"t":-5.4,"f":0.05},{"t":-4.7,"f":0.01},{"t":-3.9,"f":0.0},{"t":-3.0,"f":-0.07},{"t":-2.1,"f":0.03},{"t":-1.2,"f":0.02},{"t":-0.5,"f":0.0},{"t":0.2,"f":-0.04},{"t":0.9,"f":0.01},{"t":1.4,"f":-0.02},{"t":2.3,"f":0.02},{"t":3.2,"f":0.03},{"t":3.7,"f":0.0},{"t":4.4,"f":0.02},{"t":5.1,"f":0.02},{"t":5.8,"f":0.01},{"t":6.7,"f":0.02},{"t":7.5,"f":0.03},{"t":8.4,"f":-0.09},{"t":8.9,"f":0.02},{"t":9.6,"f":0.05},{"t":10.2,"f":0.07}],
"bc":[{"t":-83.7,"f":1.0,"c":"green"},{"t":-83.7,"f":1.01,"c":"black"},{"t":-83.7,"f":1.08,"c":"red"},{"t":-77.5,"f":1.03,"c":"green"},{"t":-77.5,"f":0.99,"c":"black"},{"t":-77.5,"f":1.1,"c":"red"},{"t":-71.7,"f":1.11,"c":"green"},{"t":-71.7,"f":1.02,"c":"black"},{"t":-71.7,"f":1.0,"c":"red"},{"t":-65.6,"f":1.0,"c":"green"},{"t":-65.6,"f":0.975,"c":"black"},{"t":-65.6,"f":1.07,"c":"red"},{"t":-59.6,"f":0.91,"c":"green"},{"t":-59.6,"f":0.96,"c":"black"},{"t":-59.6,"f":0.97,"c":"red"},{"t":-53.9,"f":0.725,"c":"green"},{"t":-53.9,"f":0.73,"c":"black"},{"t":-53.9,"f":0.72,"c":"red"},{"t":-47.7,"f":0.34,"c":"green"},{"t":-47.7,"f":0.41,"c":"black"},{"t":-47.7,"f":0.43,"c":"red"},{"t":-41.6,"f":0.26,"c":"green"},{"t":-41.6,"f":0.24,"c":"black"},{"t":-41.6,"f":0.29,"c":"red"},{"t":-35.4,"f":0.15,"c":"green"},{"t":-35.4,"f":0.14,"c":"black"},{"t":-35.4,"f":0.135,"c":"red"},{"t":-29.6,"f":0.04,"c":"green"},{"t":-29.6,"f":0.03,"c":"black"},{"t":-29.6,"f":0.03,"c":"red"},{"t":-23.5,"f":0.0,"c":"green"},{"t":-23.5,"f":-0.01,"c":"black"},{"t":-23.5,"f":0.007,"c":"red"},{"t":-17.5,"f":0.0,"c":"green"},{"t":-17.5,"f":-0.005,"c":"black"},{"t":-17.5,"f":0.014,"c":"red"},{"t":-11.4,"f":-0.05,"c":"green"},{"t":-11.4,"f":-0.016,"c":"black"},{"t":-11.4,"f":0.036,"c":"red"},{"t":-5.6,"f":0.025,"c":"green"},{"t":-5.6,"f":0.02,"c":"black"},{"t":-5.6,"f":0.03,"c":"red"},{"t":0.2,"f":0.045,"c":"green"},{"t":0.2,"f":0.025,"c":"black"},{"t":0.2,"f":0.08,"c":"red"},{"t":6.3,"f":-0.01,"c":"green"},{"t":6.3,"f":0.03,"c":"black"},{"t":6.3,"f":0.05,"c":"red"},{"t":12.5,"f":0.025,"c":"green"},{"t":12.5,"f":0.02,"c":"black"},{"t":12.5,"f":0.03,"c":"red"},{"t":18.4,"f":0.0,"c":"green"},{"t":18.4,"f":0.02,"c":"black"},{"t":18.4,"f":0.036,"c":"red"},{"t":24.2,"f":0.01,"c":"green"},{"t":24.2,"f":-0.016,"c":"black"},{"t":24.2,"f":0.05,"c":"red"},{"t":30.4,"f":0.025,"c":"green"},{"t":30.4,"f":0.02,"c":"black"},{"t":30.4,"f":0.03,"c":"red"},{"t":36.5,"f":0.097,"c":"green"},{"t":36.5,"f":0.125,"c":"black"},{"t":36.5,"f":0.12,"c":"red"},{"t":42.6,"f":0.22,"c":"green"},{"t":42.6,"f":0.215,"c":"black"},{"t":42.6,"f":0.23,"c":"red"},{"t":48.4,"f":0.345,"c":"green"},{"t":48.4,"f":0.37,"c":"black"},{"t":48.4,"f":0.4,"c":"red"},{"t":54.4,"f":0.675,"c":"green"},{"t":54.4,"f":0.64,"c":"black"},{"t":54.4,"f":0.62,"c":"red"},{"t":60.5,"f":0.94,"c":"green"},{"t":60.5,"f":0.96,"c":"black"},{"t":60.5,"f":0.9,"c":"red"},{"t":66.8,"f":0.97,"c":"green"},{"t":66.8,"f":0.99,"c":"black"},{"t":66.8,"f":1.08,"c":"red"},{"t":72.8,"f":1.03,"c":"green"},{"t":72.8,"f":1.04,"c":"black"},{"t":72.8,"f":1.05,"c":"red"},{"t":78.6,"f":1.11,"c":"green"},{"t":78.6,"f":1.08,"c":"black"},{"t":78.6,"f":1.14,"c":"red"},{"t":85.1,"f":1.05,"c":"green"},{"t":85.1,"f":1.07,"c":"black"},{"t":85.1,"f":1.015,"c":"red"}],
"oc":[{"t":-88.4,"f":0.98},{"t":-87.7,"f":0.96},{"t":-86.7,"f":1.04},{"t":-85.4,"f":1.05},{"t":-84.6,"f":1.14},{"t":-83.7,"f":1.05},{"t":-82.8,"f":1.05},{"t":-81.9,"f":0.98},{"t":-81.4,"f":0.93},{"t":-81.8,"f":0.89},{"t":-80.7,"f":0.93},{"t":-80.2,"f":0.78},{"t":-79.3,"f":0.67},{"t":-78.9,"f":0.71},{"t":-78.4,"f":0.57},{"t":-78.3,"f":0.49},{"t":-77.9,"f":0.44},{"t":-77.2,"f":0.71},{"t":-76.7,"f":0.82},{"t":-76.1,"f":0.75},{"t":-75.8,"f":0.94},{"t":-74.9,"f":0.86},{"t":-74.4,"f":0.74},{"t":-74.0,"f":0.89},{"t":-73.7,"f":1.1},{"t":-73.2,"f":1.03},{"t":-72.6,"f":1.2},{"t":-72.3,"f":1.13},{"t":-71.9,"f":0.95},{"t":-71.4,"f":1.09},{"t":-70.9,"f":1.05},{"t":-70.5,"f":1.0},{"t":-69.6,"f":1.07},{"t":-69.1,"f":0.97},{"t":-68.4,"f":0.99},{"t":-67.4,"f":0.96},{"t":-67.0,"f":0.94},{"t":-65.6,"f":0.86},{"t":-65.3,"f":0.78},{"t":-64.4,"f":0.88},{"t":-63.5,"f":0.92},{"t":-63.0,"f":1.15},{"t":-62.1,"f":1.02},{"t":-61.8,"f":1.12},{"t":-60.9,"f":1.01},{"t":-60.0,"f":0.98},{"t":-59.6,"f":1.13},{"t":-59.1,"f":1.16},{"t":-58.2,"f":1.0},{"t":-57.4,"f":0.89},{"t":-56.5,"f":0.84},{"t":-55.6,"f":0.8},{"t":-54.7,"f":0.7},{"t":-53.9,"f":0.64},{"t":-53.3,"f":0.56},{"t":-52.6,"f":0.58},{"t":-52.1,"f":0.52},{"t":-51.2,"f":0.5},{"t":-50.4,"f":0.43},{"t":-49.5,"f":0.49},{"t":-48.6,"f":0.58},{"t":-48.1,"f":0.55},{"t":-47.4,"f":0.46},{"t":-46.3,"f":0.51},{"t":-45.6,"f":0.44},{"t":-44.6,"f":0.53},{"t":-43.9,"f":0.37},{"t":-42.8,"f":0.29},{"t":-42.1,"f":0.3},{"t":-41.1,"f":0.38},{"t":-40.4,"f":0.23},{"t":-39.3,"f":0.17},{"t":-38.6,"f":0.29},{"t":-37.5,"f":0.33},{"t":-36.8,"f":0.35},{"t":-36.3,"f":0.31},{"t":-35.4,"f":0.28},{"t":-34.6,"f":0.19},{"t":-33.7,"f":0.18},{"t":-32.8,"f":0.2},{"t":-32.3,"f":0.15},{"t":-31.6,"f":0.13},{"t":-30.5,"f":0.16},{"t":-29.8,"f":0.13},{"t":-28.8,"f":0.18},{"t":-28.1,"f":0.06},{"t":-27.0,"f":0.06},{"t":-25.8,"f":0.26},{"t":-24.9,"f":0.25},{"t":-24.0,"f":0.17},{"t":-23.2,"f":0.2},{"t":-22.3,"f":0.11},{"t":-21.4,"f":0.0},{"t":-21.1,"f":0.16},{"t":-20.0,"f":0.13},{"t":-19.3,"f":0.11},{"t":-18.2,"f":0.16},{"t":-17.9,"f":0.19},{"t":-17.0,"f":0.26},{"t":-16.1,"f":0.12},{"t":-15.3,"f":0.18},{"t":-14.4,"f":0.2},{"t":-13.5,"f":0.11},{"t":-13.0,"f":0.15},{"t":-12.3,"f":0.21},{"t":-11.8,"f":0.04},{"t":-10.9,"f":-0.01},{"t":-10.0,"f":0.42},{"t":-9.5,"f":0.51},{"t":-9.1,"f":0.46},{"t":-8.8,"f":0.35},{"t":-7.7,"f":0.21},{"t":-7.0,"f":0.33},{"t":-6.3,"f":0.25},{"t":-5.6,"f":0.24},{"t":-4.7,"f":0.17},{"t":-4.2,"f":0.06},{"t":-3.5,"f":0.02},{"t":-3.0,"f":0.12},{"t":-2.5,"f":0.08},{"t":-1.8,"f":0.14},{"t":-0.7,"f":0.31},{"t":-0.4,"f":0.23},{"t":0.5,"f":0.19},{"t":1.4,"f":0.13},{"t":1.8,"f":0.26},{"t":3.2,"f":0.42},{"t":4.0,"f":0.46},{"t":4.6,"f":0.35},{"t":5.3,"f":0.38},{"t":6.3,"f":0.26},{"t":7.0,"f":0.12},{"t":8.1,"f":0.06},{"t":8.4,"f":0.05},{"t":8.8,"f":-0.02},{"t":9.8,"f":0.24},{"t":10.5,"f":0.31},{"t":11.1,"f":0.39},{"t":11.9,"f":0.42},{"t":12.8,"f":0.42},{"t":13.3,"f":0.38},{"t":13.7,"f":0.4},{"t":14.6,"f":0.33},{"t":15.1,"f":0.29},{"t":15.8,"f":0.24},{"t":16.3,"f":0.22},{"t":16.8,"f":0.35},{"t":17.5,"f":0.31},{"t":18.6,"f":0.4},{"t":19.3,"f":0.24},{"t":20.7,"f":0.03},{"t":21.1,"f":-0.04},{"t":22.1,"f":0.02},{"t":22.8,"f":0.03},{"t":23.3,"f":0.1},{"t":24.2,"f":0.12},{"t":24.6,"f":0.24},{"t":25.6,"f":0.13},{"t":26.3,"f":0.22},{"t":27.4,"f":0.33},{"t":28.1,"f":0.2},{"t":29.1,"f":0.24},{"t":29.8,"f":0.08},{"t":30.4,"f":0.18},{"t":31.2,"f":0.2},{"t":32.1,"f":0.3},{"t":33.0,"f":0.28},{"t":33.3,"f":0.47},{"t":34.4,"f":0.17},{"t":35.1,"f":0.24},{"t":36.1,"f":0.37},{"t":36.8,"f":0.47},{"t":37.4,"f":0.52},{"t":38.2,"f":0.32},{"t":39.1,"f":0.25},{"t":39.6,"f":0.08},{"t":40.4,"f":0.22},{"t":41.4,"f":0.33},{"t":42.1,"f":0.34},{"t":43.2,"f":0.42},{"t":43.9,"f":0.52},{"t":44.4,"f":0.48},{"t":45.3,"f":0.41},{"t":46.1,"f":0.45},{"t":47.0,"f":0.39},{"t":47.9,"f":0.44},{"t":48.8,"f":0.47},{"t":49.6,"f":0.42},{"t":50.5,"f":0.39},{"t":51.4,"f":0.62},{"t":52.3,"f":0.63},{"t":53.2,"f":0.52},{"t":53.7,"f":0.49},{"t":54.4,"f":0.42},{"t":54.9,"f":0.39},{"t":55.4,"f":0.45},{"t":56.1,"f":0.58},{"t":56.7,"f":0.66},{"t":57.2,"f":0.74},{"t":57.9,"f":0.8},{"t":58.4,"f":0.87},{"t":59.3,"f":0.94},{"t":60.2,"f":1.01},{"t":61.1,"f":1.05},{"t":61.9,"f":1.05},{"t":62.5,"f":1.21},{"t":63.2,"f":1.27},{"t":63.7,"f":1.35},{"t":64.6,"f":1.2},{"t":65.4,"f":1.12},{"t":66.0,"f":1.07},{"t":66.3,"f":1.02},{"t":67.2,"f":1.0},{"t":68.1,"f":1.08},{"t":68.9,"f":0.93},{"t":69.5,"f":0.88},{"t":70.2,"f":0.94},{"t":70.7,"f":0.98},{"t":71.6,"f":0.91},{"t":71.9,"f":0.8},{"t":72.5,"f":0.89},{"t":73.3,"f":1.01},{"t":73.7,"f":1.06},{"t":74.2,"f":1.01},{"t":75.1,"f":1.07},{"t":76.0,"f":1.1},{"t":76.5,"f":1.11},{"t":77.2,"f":1.12},{"t":78.2,"f":1.19},{"t":78.9,"f":1.16},{"t":80.0,"f":1.18},{"t":80.7,"f":1.05},{"t":81.2,"f":1.07},{"t":82.1,"f":1.12},{"t":83.0,"f":0.88},{"t":83.5,"f":0.87},{"t":84.7,"f":1.2},{"t":86.0,"f":1.33},{"t":86.5,"f":1.29},{"t":87.0,"f":1.13},{"t":87.7,"f":1.05},{"t":88.8,"f":0.9},{"t":89.5,"f":0.88},{"t":90.0,"f":0.9}],
"m1":[{"t":-90,"f":1.03},{"t":-89.5,"f":0.98},{"t":-89,"f":1.05},{"t":-88.5,"f":0.96},{"t":-88,"f":1.01},{"t":-87.5,"f":0.99},{"t":-87,"f":1.04},{"t":-86.5,"f":0.97},{"t":-86,"f":1.02},{"t":-85.5,"f":0.95},{"t":-85,"f":1.0},{"t":-84.5,"f":1.03},{"t":-84,"f":0.98},{"t":-83.5,"f":1.04},{"t":-83,"f":0.96},{"t":-82.5,"f":1.02},{"t":-82,"f":0.84},{"t":-81.5,"f":1.05},{"t":-81,"f":0.97},{"t":-80.5,"f":1.01},{"t":-80,"f":1.03},{"t":-79.5,"f":0.98},{"t":-79,"f":1.05},{"t":-78.5,"f":0.96},{"t":-78,"f":1.01},{"t":-77.5,"f":0.99},{"t":-77,"f":1.04},{"t":-76.5,"f":0.97},{"t":-76,"f":1.02},{"t":-75.5,"f":0.95},{"t":-75,"f":1.0},{"t":-74.5,"f":1.03},{"t":-74,"f":0.98},{"t":-73.5,"f":1.04},{"t":-73,"f":0.96},{"t":-72.5,"f":1.02},{"t":-72,"f":0.86},{"t":-71.5,"f":1.05},{"t":-71,"f":0.97},{"t":-70.5,"f":1.01},{"t":-70,"f":1.03},{"t":-69.5,"f":0.98},{"t":-69,"f":1.05},{"t":-68.5,"f":0.96},{"t":-68,"f":1.01},{"t":-67.5,"f":0.99},{"t":-67,"f":1.04},{"t":-66.5,"f":0.97},{"t":-66,"f":1.02},{"t":-65.5,"f":0.95},{"t":-65,"f":1.0},{"t":-64.5,"f":1.03},{"t":-64,"f":0.98},{"t":-63.5,"f":1.02},{"t":-63,"f":0.96},{"t":-62.5,"f":1.0},{"t":-62,"f":0.98},{"t":-61.5,"f":0.97},{"t":-61,"f":0.99},{"t":-60.5,"f":0.94},{"t":-60,"f":0.95},
{"t":-89.75,"f":1.08},{"t":-89.25,"f":0.93},{"t":-88.75,"f":1.11},{"t":-88.25,"f":0.97},{"t":-87.75,"f":0.91},{"t":-87.25,"f":1.06},{"t":-86.75,"f":1.0},{"t":-86.25,"f":0.94},{"t":-85.75,"f":1.1},{"t":-85.25,"f":0.96},{"t":-84.75,"f":1.04},{"t":-84.25,"f":0.92},{"t":-83.75,"f":1.09},{"t":-83.25,"f":0.98},{"t":-82.75,"f":1.02},{"t":-82.25,"f":0.95},{"t":-81.75,"f":1.12},{"t":-81.25,"f":0.9},{"t":-80.75,"f":1.05},{"t":-80.25,"f":0.99},{"t":-79.75,"f":1.08},{"t":-79.25,"f":0.93},{"t":-78.75,"f":1.11},{"t":-78.25,"f":0.97},{"t":-77.75,"f":0.91},{"t":-77.25,"f":1.06},{"t":-76.75,"f":1.0},{"t":-76.25,"f":0.94},{"t":-75.75,"f":1.1},{"t":-75.25,"f":0.96},{"t":-74.75,"f":1.04},{"t":-74.25,"f":0.92},{"t":-73.75,"f":1.09},{"t":-73.25,"f":0.98},{"t":-72.75,"f":1.02},{"t":-72.25,"f":0.95},{"t":-71.75,"f":1.12},{"t":-71.25,"f":0.9},{"t":-70.75,"f":1.05},{"t":-70.25,"f":0.99},{"t":-69.75,"f":1.08},{"t":-69.25,"f":0.93},{"t":-68.75,"f":1.11},{"t":-68.25,"f":0.97},{"t":-67.75,"f":0.91},{"t":-67.25,"f":1.06},{"t":-66.75,"f":1.0},{"t":-66.25,"f":0.94},{"t":-65.75,"f":1.1},{"t":-65.25,"f":0.96},{"t":-64.75,"f":1.04},{"t":-64.25,"f":0.92},{"t":-63.75,"f":1.09},{"t":-63.25,"f":0.98},{"t":-62.75,"f":1.02},{"t":-62.25,"f":0.95},{"t":-61.75,"f":1.0},{"t":-61.25,"f":0.93},
{"t":-59.5,"f":0.92},{"t":-59,"f":0.9},{"t":-58.5,"f":0.89},{"t":-58,"f":0.86},{"t":-57.5,"f":0.86},{"t":-57,"f":0.82},{"t":-56.5,"f":0.82},{"t":-56,"f":0.78},{"t":-55.5,"f":0.77},{"t":-55,"f":0.76},{"t":-54.5,"f":0.72},{"t":-54,"f":0.71},{"t":-53.5,"f":0.7},{"t":-53,"f":0.66},{"t":-52.5,"f":0.66},{"t":-52,"f":0.63},{"t":-51.5,"f":0.62},{"t":-51,"f":0.61},{"t":-50.5,"f":0.57},{"t":-50,"f":0.56},{"t":-49.5,"f":0.54},{"t":-49,"f":0.5},{"t":-48.5,"f":0.49},{"t":-48,"f":0.45},{"t":-47.5,"f":0.44},{"t":-47,"f":0.42},{"t":-46.5,"f":0.38},{"t":-46,"f":0.37},{"t":-45.5,"f":0.36},{"t":-45,"f":0.33},{"t":-44.5,"f":0.32},{"t":-44,"f":0.3},{"t":-43.5,"f":0.29},{"t":-43,"f":0.26},{"t":-42.5,"f":0.26},{"t":-42,"f":0.24},{"t":-41.5,"f":0.24},{"t":-41,"f":0.21},{"t":-40.5,"f":0.21},{"t":-40,"f":0.2},{"t":-39.5,"f":0.19},{"t":-39,"f":0.17},{"t":-38.5,"f":0.17},{"t":-38,"f":0.16},{"t":-37.5,"f":0.15},{"t":-37,"f":0.13},{"t":-36.5,"f":0.13},{"t":-36,"f":0.12},{"t":-35.5,"f":0.11},{"t":-35,"f":0.1},{"t":-34.5,"f":0.1},{"t":-34,"f":0.08},{"t":-33.5,"f":0.09},{"t":-33,"f":0.07},{"t":-32.5,"f":0.08},{"t":-32,"f":0.06},{"t":-31.5,"f":0.06},{"t":-31,"f":0.05},{"t":-30.5,"f":0.06},{"t":-30,"f":0.04},{"t":-29.5,"f":0.05},{"t":-29,"f":0.04},{"t":-28.5,"f":0.04},{"t":-28,"f":0.03},
{"t":-59.75,"f":0.95},{"t":-59.25,"f":0.88},{"t":-58.75,"f":0.92},{"t":-58.25,"f":0.85},{"t":-57.75,"f":0.89},{"t":-57.25,"f":0.81},{"t":-56.75,"f":0.85},{"t":-56.25,"f":0.77},{"t":-55.75,"f":0.8},{"t":-55.25,"f":0.73},{"t":-54.75,"f":0.77},{"t":-54.25,"f":0.69},{"t":-53.75,"f":0.73},{"t":-53.25,"f":0.65},{"t":-52.75,"f":0.68},{"t":-52.25,"f":0.61},{"t":-51.75,"f":0.65},{"t":-51.25,"f":0.58},{"t":-50.75,"f":0.61},{"t":-50.25,"f":0.53},{"t":-49.75,"f":0.57},{"t":-49.25,"f":0.49},{"t":-48.75,"f":0.52},{"t":-48.25,"f":0.44},{"t":-47.75,"f":0.47},{"t":-47.25,"f":0.4},{"t":-46.75,"f":0.43},{"t":-46.25,"f":0.35},{"t":-45.75,"f":0.39},{"t":-45.25,"f":0.32},{"t":-44.75,"f":0.35},{"t":-44.25,"f":0.29},{"t":-43.75,"f":0.31},{"t":-43.25,"f":0.25},{"t":-42.75,"f":0.28},{"t":-42.25,"f":0.22},{"t":-41.75,"f":0.25},{"t":-41.25,"f":0.2},{"t":-40.75,"f":0.23},{"t":-40.25,"f":0.18},{"t":-39.75,"f":0.21},{"t":-39.25,"f":0.16},{"t":-38.75,"f":0.19},{"t":-38.25,"f":0.14},{"t":-37.75,"f":0.17},{"t":-37.25,"f":0.12},{"t":-36.75,"f":0.15},{"t":-36.25,"f":0.1},{"t":-35.75,"f":0.13},{"t":-35.25,"f":0.09},{"t":-34.75,"f":0.11},{"t":-34.25,"f":0.07},{"t":-33.75,"f":0.1},{"t":-33.25,"f":0.06},{"t":-32.75,"f":0.09},{"t":-32.25,"f":0.05},{"t":-31.75,"f":0.07},{"t":-31.25,"f":0.04},{"t":-30.75,"f":0.06},{"t":-30.25,"f":0.03},{"t":-29.75,"f":0.05},{"t":-29.25,"f":0.03},{"t":-28.75,"f":0.045},{"t":-28.25,"f":0.02},
{"t":-27,"f":0.03},{"t":-26,"f":0.02},{"t":-25,"f":0.03},{"t":-24,"f":0.02},{"t":-23,"f":0.025},{"t":-22,"f":0.02},{"t":-21,"f":0.03},{"t":-20,"f":0.025},{"t":-19,"f":0.02},{"t":-18,"f":0.03},{"t":-17,"f":0.025},{"t":-16,"f":0.02},{"t":-15,"f":0.03},{"t":-14,"f":0.025},{"t":-13,"f":0.03},{"t":-12,"f":0.025},{"t":-11,"f":0.03},{"t":-10,"f":0.035},{"t":-9,"f":0.03},{"t":-8,"f":0.03},{"t":-7,"f":0.035},{"t":-6,"f":0.03},{"t":-5,"f":0.035},{"t":-4,"f":0.04},{"t":-3,"f":0.04},{"t":-2,"f":0.045},{"t":-1,"f":0.05},{"t":0,"f":0.055},{"t":0.5,"f":0.065},{"t":1,"f":0.05},{"t":2,"f":0.045},{"t":3,"f":0.04},{"t":4,"f":0.035},{"t":5,"f":0.04},{"t":6,"f":0.03},{"t":7,"f":0.035},{"t":8,"f":0.03},{"t":9,"f":0.025},{"t":10,"f":0.03},{"t":11,"f":0.025},{"t":12,"f":0.03},{"t":13,"f":0.02},{"t":14,"f":0.025},{"t":15,"f":0.03},{"t":16,"f":0.02},{"t":17,"f":0.025},{"t":18,"f":0.02},{"t":19,"f":0.03},{"t":20,"f":0.015},{"t":21,"f":0.025},{"t":22,"f":0.02},{"t":23,"f":0.03},{"t":24,"f":0.02},{"t":25,"f":0.025},{"t":26,"f":0.05},{"t":27,"f":0.03},{"t":28,"f":0.025},{"t":29,"f":0.04},{"t":30,"f":0.03},
{"t":-26.5,"f":0.025},{"t":-24.5,"f":0.03},{"t":-22.5,"f":0.025},{"t":-20.5,"f":0.02},{"t":-18.5,"f":0.025},{"t":-16.5,"f":0.03},{"t":-14.5,"f":0.02},{"t":-12.5,"f":0.03},{"t":-10.5,"f":0.025},{"t":-8.5,"f":0.035},{"t":-6.5,"f":0.04},{"t":-4.5,"f":0.035},{"t":-2.5,"f":0.04},{"t":-1.5,"f":0.05},{"t":-0.5,"f":0.06},{"t":1.5,"f":0.055},{"t":2.5,"f":0.04},{"t":4.5,"f":0.03},{"t":6.5,"f":0.035},{"t":8.5,"f":0.025},{"t":10.5,"f":0.02},{"t":12.5,"f":0.025},{"t":14.5,"f":0.02},{"t":16.5,"f":0.03},{"t":18.5,"f":0.025},{"t":19.5,"f":-0.01},{"t":20.5,"f":0.03},{"t":22.5,"f":0.025},{"t":24.5,"f":0.03},{"t":26.5,"f":0.02},{"t":27.5,"f":0.09},{"t":28.2,"f":0.07},{"t":28.5,"f":0.035},
{"t":-27.25,"f":0.04},{"t":-25.25,"f":0.015},{"t":-23.25,"f":0.035},{"t":-21.25,"f":0.01},{"t":-19.25,"f":0.03},{"t":-17.25,"f":0.045},{"t":-15.25,"f":0.02},{"t":-13.25,"f":0.035},{"t":-11.25,"f":0.015},{"t":-9.25,"f":0.04},{"t":-7.25,"f":0.025},{"t":-5.25,"f":0.05},{"t":-3.25,"f":0.03},{"t":-1.25,"f":0.065},{"t":0.25,"f":0.07},{"t":1.25,"f":0.04},{"t":3.25,"f":0.055},{"t":5.25,"f":0.025},{"t":7.25,"f":0.04},{"t":9.25,"f":0.015},{"t":11.25,"f":0.035},{"t":13.25,"f":0.01},{"t":15.25,"f":0.03},{"t":17.25,"f":0.04},{"t":19.25,"f":0.015},{"t":21.25,"f":0.035},{"t":23.25,"f":0.01},{"t":25.25,"f":0.04},{"t":27.25,"f":0.02},{"t":29.25,"f":0.045},
{"t":30.5,"f":0.04},{"t":31,"f":0.05},{"t":31.5,"f":0.045},{"t":32,"f":0.065},{"t":32.5,"f":0.07},{"t":33,"f":0.085},{"t":33.5,"f":0.09},{"t":34,"f":0.115},{"t":34.5,"f":0.12},{"t":35,"f":0.135},{"t":35.5,"f":0.14},{"t":36,"f":0.16},{"t":36.5,"f":0.155},{"t":37,"f":0.18},{"t":37.5,"f":0.19},{"t":38,"f":0.2},{"t":38.5,"f":0.225},{"t":39,"f":0.23},{"t":39.5,"f":0.255},{"t":40,"f":0.26},{"t":40.5,"f":0.285},{"t":41,"f":0.285},{"t":41.5,"f":0.305},{"t":42,"f":0.31},{"t":42.5,"f":0.335},{"t":43,"f":0.335},{"t":43.5,"f":0.365},{"t":44,"f":0.365},{"t":44.5,"f":0.395},{"t":45,"f":0.395},{"t":45.5,"f":0.425},{"t":46,"f":0.425},{"t":46.5,"f":0.455},{"t":47,"f":0.455},{"t":47.5,"f":0.485},{"t":48,"f":0.485},{"t":48.5,"f":0.515},{"t":49,"f":0.515},{"t":49.5,"f":0.545},{"t":50,"f":0.545},{"t":50.5,"f":0.575},{"t":51,"f":0.575},{"t":51.5,"f":0.605},{"t":52,"f":0.615},{"t":52.5,"f":0.645},{"t":53,"f":0.655},{"t":53.5,"f":0.685},{"t":54,"f":0.695},{"t":54.5,"f":0.725},{"t":55,"f":0.735},{"t":55.5,"f":0.775},{"t":56,"f":0.785},{"t":56.5,"f":0.825},{"t":57,"f":0.835},{"t":57.5,"f":0.865},{"t":58,"f":0.875},{"t":58.5,"f":0.905},{"t":59,"f":0.905},{"t":59.5,"f":0.935},{"t":60,"f":0.935},
{"t":30.25,"f":0.02},{"t":30.75,"f":0.06},{"t":31.25,"f":0.035},{"t":31.75,"f":0.08},{"t":32.25,"f":0.05},{"t":32.75,"f":0.1},{"t":33.25,"f":0.06},{"t":33.75,"f":0.13},{"t":34.25,"f":0.09},{"t":34.75,"f":0.15},{"t":35.25,"f":0.11},{"t":35.75,"f":0.17},{"t":36.25,"f":0.13},{"t":36.75,"f":0.2},{"t":37.25,"f":0.16},{"t":37.75,"f":0.22},{"t":38.25,"f":0.18},{"t":38.75,"f":0.25},{"t":39.25,"f":0.21},{"t":39.75,"f":0.28},{"t":40.25,"f":0.24},{"t":40.75,"f":0.31},{"t":41.25,"f":0.26},{"t":41.75,"f":0.33},{"t":42.25,"f":0.29},{"t":42.75,"f":0.36},{"t":43.25,"f":0.32},{"t":43.75,"f":0.39},{"t":44.25,"f":0.35},{"t":44.75,"f":0.42},{"t":45.25,"f":0.38},{"t":45.75,"f":0.45},{"t":46.25,"f":0.41},{"t":46.75,"f":0.48},{"t":47.25,"f":0.44},{"t":47.75,"f":0.51},{"t":48.25,"f":0.47},{"t":48.75,"f":0.54},{"t":49.25,"f":0.5},{"t":49.75,"f":0.57},{"t":50.25,"f":0.53},{"t":50.75,"f":0.6},{"t":51.25,"f":0.56},{"t":51.75,"f":0.64},{"t":52.25,"f":0.6},{"t":52.75,"f":0.68},{"t":53.25,"f":0.64},{"t":53.75,"f":0.72},{"t":54.25,"f":0.68},{"t":54.75,"f":0.76},{"t":55.25,"f":0.72},{"t":55.75,"f":0.81},{"t":56.25,"f":0.77},{"t":56.75,"f":0.86},{"t":57.25,"f":0.82},{"t":57.75,"f":0.9},{"t":58.25,"f":0.86},{"t":58.75,"f":0.93},{"t":59.25,"f":0.88},{"t":59.75,"f":0.96},
{"t":60.5,"f":0.95},{"t":61,"f":0.97},{"t":61.5,"f":0.98},{"t":62,"f":1.0},{"t":62.5,"f":0.98},{"t":63,"f":1.03},{"t":63.5,"f":0.96},{"t":64,"f":1.04},{"t":64.5,"f":0.99},{"t":65,"f":1.02},{"t":65.5,"f":0.95},{"t":66,"f":1.05},{"t":66.5,"f":0.98},{"t":67,"f":1.01},{"t":67.5,"f":1.03},{"t":68,"f":0.97},{"t":68.5,"f":1.04},{"t":69,"f":0.96},{"t":69.5,"f":1.02},{"t":70,"f":0.99},{"t":70.5,"f":1.05},{"t":71,"f":0.97},{"t":71.5,"f":1.01},{"t":72,"f":0.95},{"t":72.5,"f":1.03},{"t":73,"f":0.98},{"t":73.5,"f":1.04},{"t":74,"f":1.0},{"t":74.5,"f":0.96},{"t":75,"f":1.02},{"t":75.5,"f":0.99},{"t":76,"f":1.05},{"t":76.5,"f":0.97},{"t":77,"f":1.03},{"t":77.5,"f":0.96},{"t":78,"f":1.01},{"t":78.5,"f":1.04},{"t":79,"f":0.98},{"t":79.5,"f":1.02},{"t":80,"f":0.95},{"t":80.5,"f":1.03},{"t":81,"f":0.99},{"t":81.5,"f":1.05},{"t":82,"f":0.97},{"t":82.5,"f":1.01},{"t":83,"f":0.96},{"t":83.5,"f":1.04},{"t":84,"f":0.98},{"t":84.5,"f":1.02},{"t":85,"f":0.93},{"t":85.5,"f":0.95},{"t":86,"f":1.03},{"t":86.5,"f":0.97},{"t":87,"f":1.04},{"t":87.5,"f":0.99},{"t":88,"f":1.01},{"t":88.5,"f":0.96},{"t":89,"f":1.03},{"t":89.5,"f":0.98},{"t":90,"f":1.02},
{"t":62.25,"f":0.93},{"t":62.75,"f":1.06},{"t":63.25,"f":0.99},{"t":63.75,"f":1.09},{"t":64.25,"f":0.92},{"t":64.75,"f":1.04},{"t":65.25,"f":0.96},{"t":65.75,"f":1.1},{"t":66.25,"f":0.94},{"t":66.75,"f":1.0},{"t":67.25,"f":1.06},{"t":67.75,"f":0.91},{"t":68.25,"f":0.97},{"t":68.75,"f":1.11},{"t":69.25,"f":0.93},{"t":69.75,"f":1.08},{"t":70.25,"f":0.99},{"t":70.75,"f":1.05},{"t":71.25,"f":0.9},{"t":71.75,"f":1.12},{"t":72.25,"f":0.95},{"t":72.75,"f":1.02},{"t":73.25,"f":0.98},{"t":73.75,"f":1.09},{"t":74.25,"f":0.92},{"t":74.75,"f":1.04},{"t":75.25,"f":0.96},{"t":75.75,"f":1.1},{"t":76.25,"f":0.94},{"t":76.75,"f":1.0},{"t":77.25,"f":1.06},{"t":77.75,"f":0.91},{"t":78.25,"f":0.97},{"t":78.75,"f":1.11},{"t":79.25,"f":0.93},{"t":79.75,"f":1.08},{"t":80.25,"f":0.99},{"t":80.75,"f":1.05},{"t":81.25,"f":0.9},{"t":81.75,"f":1.12},{"t":82.25,"f":0.95},{"t":82.75,"f":1.02},{"t":83.25,"f":0.98},{"t":83.75,"f":1.09},{"t":84.25,"f":0.92},{"t":84.75,"f":1.04},{"t":85.25,"f":0.96},{"t":85.75,"f":1.1},{"t":86.25,"f":0.94},{"t":86.75,"f":1.0},{"t":87.25,"f":1.06},{"t":87.75,"f":0.91},{"t":88.25,"f":0.97},{"t":88.75,"f":1.11},{"t":89.25,"f":0.93},{"t":89.75,"f":1.08}]
},
"spacing":38,
"hconcat":[
{"vconcat":[
{"width":349,"height":11,"data":{"values":[{}]},"mark":{"type":"point","opacity":0},"encoding":{}},
{"width":349,"height":233,"layer":[
{"data":{"values":[{}]},"mark":{"type":"rule","color":"#9e9e9e","strokeWidth":3},"encoding":{"y":{"datum":0,"type":"quantitative","scale":{"domain":[-0.2,1.32],"nice":false,"zero":false},"axis":{"orient":"right","values":[-0.1,0,0.1,0.2,0.3,0.4,0.5,0.6,0.7,0.8,0.9,1,1.1,1.2,1.3],"labels":false,"title":null}}}},
{"data":{"name":"hb"},"mark":{"type":"point","filled":true,"size":3,"color":"#555555","opacity":1},"encoding":{"x":{"field":"t","type":"quantitative","scale":{"domain":[-90,90],"nice":false},"axis":{"orient":"top","values":[-80,-70,-60,-50,-40,-30,-20,-10,0,10,20,30,40,50,60,70,80],"labels":false,"title":null}},"y":{"field":"f","type":"quantitative","scale":{"domain":[-0.2,1.32],"nice":false,"zero":false},"axis":{"orient":"left","values":[-0.1,0,0.1,0.2,0.3,0.4,0.5,0.6,0.7,0.8,0.9,1,1.1,1.2,1.3],"labelExpr":"datum.value == 0 ? '0' : datum.value == 0.5 ? '0.5' : datum.value == 1 ? '1.0' : ''","title":null}}}},
{"data":{"values":[{}]},"mark":{"type":"text","fontSize":22,"font":"Liberation Sans","color":"#222222"},"encoding":{"x":{"datum":0,"type":"quantitative","scale":{"domain":[-90,90],"nice":false},"axis":null},"y":{"datum":0.98,"type":"quantitative","scale":{"domain":[-0.2,1.32],"nice":false,"zero":false},"axis":null},"text":{"value":"HIPO Blue"}}}
],"resolve":{"axis":{"x":"independent","y":"independent"}}},
{"width":349,"height":233,"layer":[
{"data":{"values":[{}]},"mark":{"type":"rule","color":"#9e9e9e","strokeWidth":3},"encoding":{"y":{"datum":0,"type":"quantitative","scale":{"domain":[-0.2,1.32],"nice":false,"zero":false},"axis":{"orient":"right","values":[-0.1,0,0.1,0.2,0.3,0.4,0.5,0.6,0.7,0.8,0.9,1,1.1,1.2,1.3],"labels":false,"title":null}}}},
{"data":{"name":"hr"},"mark":{"type":"point","filled":true,"size":8,"color":"#111111","opacity":1},"encoding":{"x":{"field":"t","type":"quantitative","scale":{"domain":[-90,90],"nice":false},"axis":null},"y":{"field":"f","type":"quantitative","scale":{"domain":[-0.2,1.32],"nice":false,"zero":false},"axis":{"orient":"left","values":[-0.1,0,0.1,0.2,0.3,0.4,0.5,0.6,0.7,0.8,0.9,1,1.1,1.2,1.3],"labelExpr":"datum.value == 0 ? '0' : datum.value == 0.5 ? '0.5' : datum.value == 1 ? '1.0' : ''","title":"Normalized Flux","titleX":-65,"titleY":238,"titleBaseline":"alphabetic","titleAlign":"center","titleAngle":270}}}},
{"data":{"values":[{}]},"mark":{"type":"text","fontSize":22,"font":"Liberation Sans","color":"#222222"},"encoding":{"x":{"datum":0,"type":"quantitative","scale":{"domain":[-90,90],"nice":false},"axis":null},"y":{"datum":0.98,"type":"quantitative","scale":{"domain":[-0.2,1.32],"nice":false,"zero":false},"axis":null},"text":{"value":"HIPO Red"}}}
],"resolve":{"axis":{"x":"independent","y":"independent"}}},
{"width":349,"height":233,"layer":[
{"data":{"values":[{}]},"mark":{"type":"rule","color":"#9e9e9e","strokeWidth":3},"encoding":{"y":{"datum":0,"type":"quantitative","scale":{"domain":[-0.2,1.32],"nice":false,"zero":false},"axis":{"orient":"right","values":[-0.1,0,0.1,0.2,0.3,0.4,0.5,0.6,0.7,0.8,0.9,1,1.1,1.2,1.3],"labels":false,"title":null}}}},
{"data":{"name":"fp"},"mark":{"type":"point","filled":true,"size":3,"color":"#555555","opacity":1},"encoding":{"x":{"field":"t","type":"quantitative","scale":{"domain":[-90,90],"nice":false},"axis":null},"y":{"field":"f","type":"quantitative","scale":{"domain":[-0.2,1.32],"nice":false,"zero":false},"axis":{"orient":"left","values":[-0.1,0,0.1,0.2,0.3,0.4,0.5,0.6,0.7,0.8,0.9,1,1.1,1.2,1.3],"labelExpr":"datum.value == 0 ? '0' : datum.value == 0.5 ? '0.5' : datum.value == 1 ? '1.0' : ''","title":null}}}},
{"data":{"values":[{}]},"mark":{"type":"text","fontSize":22,"font":"Liberation Sans","color":"#222222"},"encoding":{"x":{"datum":-2.5,"type":"quantitative","scale":{"domain":[-90,90],"nice":false},"axis":null},"y":{"datum":0.98,"type":"quantitative","scale":{"domain":[-0.2,1.32],"nice":false,"zero":false},"axis":null},"text":{"value":"FPI+"}}}
],"resolve":{"axis":{"x":"independent","y":"independent"}}},
{"width":349,"height":233,"layer":[
{"data":{"values":[{}]},"mark":{"type":"rule","color":"#9e9e9e","strokeWidth":3},"encoding":{"y":{"datum":0,"type":"quantitative","scale":{"domain":[-0.2,1.32],"nice":false,"zero":false},"axis":{"orient":"right","values":[-0.1,0,0.1,0.2,0.3,0.4,0.5,0.6,0.7,0.8,0.9,1,1.1,1.2,1.3],"labels":false,"title":null}}}},
{"data":{"name":"fl"},"mark":{"type":"point","filled":true,"size":12,"color":"#111111","opacity":1},"encoding":{"x":{"field":"t","type":"quantitative","scale":{"domain":[-90,90],"nice":false},"axis":{"orient":"bottom","values":[-80,-70,-60,-50,-40,-30,-20,-10,0,10,20,30,40,50,60,70,80],"labelExpr":"datum.value % 40 == 0 ? '' + datum.value : ''","title":"Seconds from midtime","titlePadding":12}},"y":{"field":"f","type":"quantitative","scale":{"domain":[-0.2,1.32],"nice":false,"zero":false},"axis":{"orient":"left","values":[-0.1,0,0.1,0.2,0.3,0.4,0.5,0.6,0.7,0.8,0.9,1,1.1,1.2,1.3],"labelExpr":"datum.value == 0 ? '0' : datum.value == 0.5 ? '0.5' : datum.value == 1 ? '1' : ''","title":null}}}},
{"data":{"values":[{}]},"mark":{"type":"text","fontSize":22,"font":"Liberation Sans","color":"#222222"},"encoding":{"x":{"datum":-1,"type":"quantitative","scale":{"domain":[-90,90],"nice":false},"axis":null},"y":{"datum":1.0,"type":"quantitative","scale":{"domain":[-0.2,1.32],"nice":false,"zero":false},"axis":null},"text":{"value":"FLITECAM"}}}
],"resolve":{"axis":{"x":"independent","y":"independent"}}}
],"spacing":0,"bounds":"flush"},
{"vconcat":[
{"width":341,"height":30,"layer":[
{"data":{"values":[{}]},"mark":{"type":"rule","color":"#9e9e9e","strokeWidth":3},"encoding":{"y":{"datum":0,"type":"quantitative","scale":{"domain":[-0.2,0],"nice":false,"zero":false},"axis":{"orient":"right","values":[-0.1],"labels":false,"title":null}}}},
{"data":{"name":"ph"},"mark":{"type":"point","filled":true,"size":30,"color":"#111111","opacity":1},"encoding":{"x":{"field":"t","type":"quantitative","scale":{"domain":[-90,90],"nice":false},"axis":null},"y":{"field":"f","type":"quantitative","scale":{"domain":[-0.2,0],"nice":false,"zero":false},"axis":{"orient":"left","values":[-0.1],"labels":false,"title":null}}}}
],"resolve":{"axis":{"x":"independent","y":"independent"}}},
{"width":341,"height":228,"layer":[
{"data":{"values":[{}]},"mark":{"type":"rule","color":"#9e9e9e","strokeWidth":3},"encoding":{"y":{"datum":0,"type":"quantitative","scale":{"domain":[-0.2,1.34],"nice":false,"zero":false},"axis":{"orient":"right","values":[-0.1,0,0.1,0.2,0.3,0.4,0.5,0.6,0.7,0.8,0.9,1,1.1,1.2,1.3],"labels":false,"title":null}}}},
{"data":{"name":"au"},"mark":{"type":"point","filled":true,"size":10,"color":"#111111","opacity":1},"encoding":{"x":{"field":"t","type":"quantitative","scale":{"domain":[-90,90],"nice":false},"axis":null},"y":{"field":"f","type":"quantitative","scale":{"domain":[-0.2,1.34],"nice":false,"zero":false},"axis":{"orient":"left","values":[-0.1,0,0.1,0.2,0.3,0.4,0.5,0.6,0.7,0.8,0.9,1,1.1,1.2,1.3],"labelExpr":"datum.value == 0 ? '0' : datum.value == 0.5 ? '0.5' : datum.value == 1 ? '1.0' : ''","title":null}}}},
{"data":{"values":[{}]},"mark":{"type":"text","fontSize":22,"font":"Liberation Sans","color":"#222222"},"encoding":{"x":{"datum":6,"type":"quantitative","scale":{"domain":[-90,90],"nice":false},"axis":null},"y":{"datum":1.15,"type":"quantitative","scale":{"domain":[-0.2,1.34],"nice":false,"zero":false},"axis":null},"text":{"value":"Auckland 0.5m"}}}
],"resolve":{"axis":{"x":"independent","y":"independent"}}},
{"width":341,"height":228,"layer":[
{"data":{"values":[{}]},"mark":{"type":"rule","color":"#9e9e9e","strokeWidth":3},"encoding":{"y":{"datum":0,"type":"quantitative","scale":{"domain":[-0.2,1.34],"nice":false,"zero":false},"axis":{"orient":"right","values":[-0.1,0,0.1,0.2,0.3,0.4,0.5,0.6,0.7,0.8,0.9,1,1.1,1.2,1.3],"labels":false,"title":null}}}},
{"data":{"name":"bc"},"mark":{"type":"point","filled":true,"size":30,"opacity":1},"encoding":{"x":{"field":"t","type":"quantitative","scale":{"domain":[-90,90],"nice":false},"axis":null},"y":{"field":"f","type":"quantitative","scale":{"domain":[-0.2,1.34],"nice":false,"zero":false},"axis":{"orient":"left","values":[-0.1,0,0.1,0.2,0.3,0.4,0.5,0.6,0.7,0.8,0.9,1,1.1,1.2,1.3],"labelExpr":"datum.value == 0 ? '0' : datum.value == 0.5 ? '0.5' : datum.value == 1 ? '1.0' : ''","title":"Normalized Flux","titleX":-67,"titleY":114,"titleBaseline":"alphabetic","titleAlign":"center","titleAngle":270}},"color":{"field":"c","type":"nominal","scale":{"domain":["black","green","red"],"range":["#000000","#1a8c1a","#e4261c"]},"legend":null}}},
{"data":{"values":[{}]},"mark":{"type":"text","fontSize":22,"font":"Liberation Sans","color":"#222222"},"encoding":{"x":{"datum":-2,"type":"quantitative","scale":{"domain":[-90,90],"nice":false},"axis":null},"y":{"datum":1.12,"type":"quantitative","scale":{"domain":[-0.2,1.34],"nice":false,"zero":false},"axis":null},"text":{"value":"Mt. John B&C"}}}
],"resolve":{"axis":{"x":"independent","y":"independent"}}},
{"width":341,"height":228,"layer":[
{"data":{"values":[{}]},"mark":{"type":"rule","color":"#9e9e9e","strokeWidth":3},"encoding":{"y":{"datum":0,"type":"quantitative","scale":{"domain":[-0.2,1.34],"nice":false,"zero":false},"axis":{"orient":"right","values":[-0.1,0,0.1,0.2,0.3,0.4,0.5,0.6,0.7,0.8,0.9,1,1.1,1.2,1.3],"labels":false,"title":null}}}},
{"data":{"name":"oc"},"mark":{"type":"point","filled":true,"size":10,"color":"#111111","opacity":1},"encoding":{"x":{"field":"t","type":"quantitative","scale":{"domain":[-90,90],"nice":false},"axis":null},"y":{"field":"f","type":"quantitative","scale":{"domain":[-0.2,1.34],"nice":false,"zero":false},"axis":{"orient":"left","values":[-0.1,0,0.1,0.2,0.3,0.4,0.5,0.6,0.7,0.8,0.9,1,1.1,1.2,1.3],"labelExpr":"datum.value == 0 ? '0' : datum.value == 0.5 ? '0.5' : datum.value == 1 ? '1.0' : ''","title":null}}}},
{"data":{"values":[{}]},"mark":{"type":"text","fontSize":22,"font":"Liberation Sans","color":"#222222"},"encoding":{"x":{"datum":0.5,"type":"quantitative","scale":{"domain":[-90,90],"nice":false},"axis":null},"y":{"datum":1.14,"type":"quantitative","scale":{"domain":[-0.2,1.34],"nice":false,"zero":false},"axis":null},"text":{"value":"Mt. John OC61"}}}
],"resolve":{"axis":{"x":"independent","y":"independent"}}},
{"width":341,"height":228,"layer":[
{"data":{"values":[{}]},"mark":{"type":"rule","color":"#9e9e9e","strokeWidth":3},"encoding":{"y":{"datum":0,"type":"quantitative","scale":{"domain":[-0.2,1.34],"nice":false,"zero":false},"axis":{"orient":"right","values":[-0.1,0,0.1,0.2,0.3,0.4,0.5,0.6,0.7,0.8,0.9,1,1.1,1.2,1.3],"labels":false,"title":null}}}},
{"data":{"name":"m1"},"mark":{"type":"point","filled":true,"size":5,"color":"#111111","opacity":1},"encoding":{"x":{"field":"t","type":"quantitative","scale":{"domain":[-90,90],"nice":false},"axis":{"orient":"bottom","values":[-80,-70,-60,-50,-40,-30,-20,-10,0,10,20,30,40,50,60,70,80],"labelExpr":"datum.value % 40 == 0 ? '' + datum.value : ''","title":"Seconds from midtime","titlePadding":12}},"y":{"field":"f","type":"quantitative","scale":{"domain":[-0.2,1.34],"nice":false,"zero":false},"axis":{"orient":"left","values":[-0.1,0,0.1,0.2,0.3,0.4,0.5,0.6,0.7,0.8,0.9,1,1.1,1.2,1.3],"labelExpr":"datum.value == 0 ? '0' : datum.value == 0.5 ? '0.5' : datum.value == 1 ? '1' : ''","title":null}}}},
{"data":{"values":[{}]},"mark":{"type":"text","fontSize":22,"font":"Liberation Sans","color":"#222222"},"encoding":{"x":{"datum":-1,"type":"quantitative","scale":{"domain":[-90,90],"nice":false},"axis":null},"y":{"datum":1.16,"type":"quantitative","scale":{"domain":[-0.2,1.34],"nice":false,"zero":false},"axis":null},"text":{"value":"Mt. John 1m"}}}
],"resolve":{"axis":{"x":"independent","y":"independent"}}}
],"spacing":0,"bounds":"flush"}
]
}
